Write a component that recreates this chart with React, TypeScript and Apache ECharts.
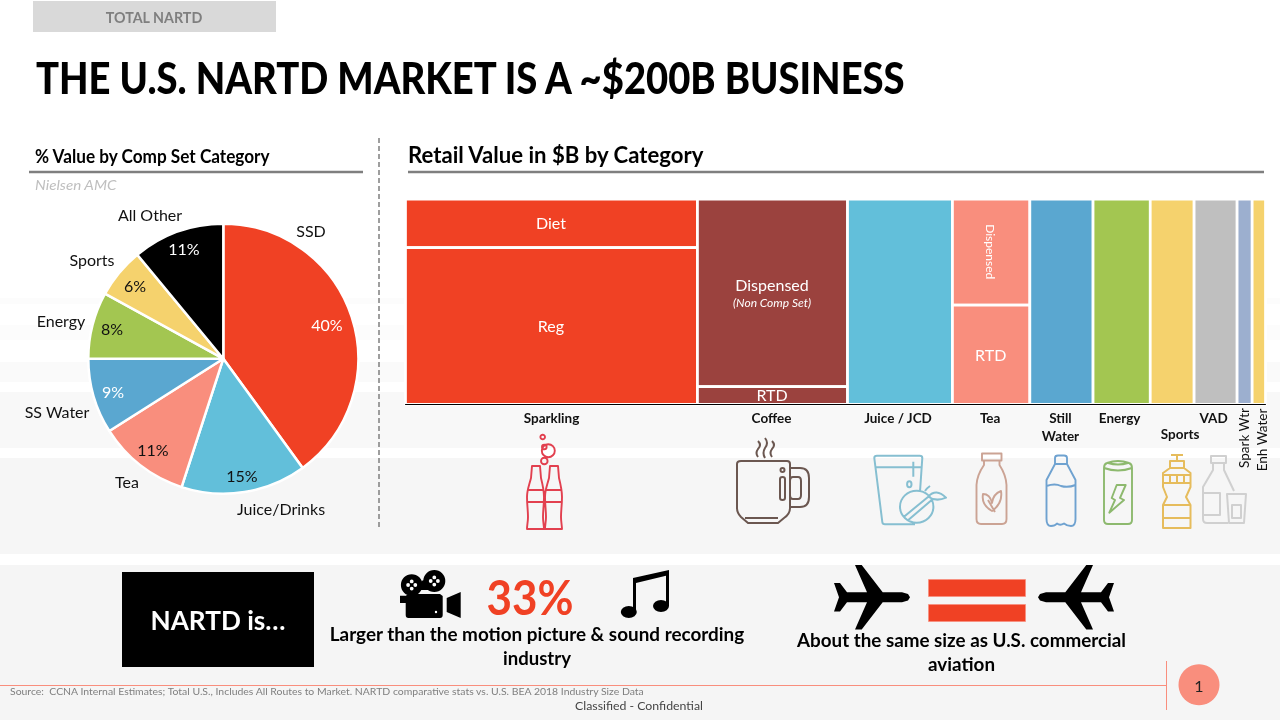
import React, { useEffect, useRef } from "react";
import * as echarts from "echarts";

// ---------- data ----------
const pieNames = ["SSD", "Juice/Drinks", "Tea", "SS Water", "Energy", "Sports", "All Other"];
const pieValues = [40, 15, 11, 9, 8, 6, 11];
const pieColors = ["#F04124", "#62BFDA", "#F98E7D", "#5AA7D0", "#A3C651", "#F5D26D", "#000000"];
const piePctColors = ["#fff", "#111", "#111", "#fff", "#111", "#111", "#fff"];

const categories = ["Sparkling", "Coffee", "Juice / JCD", "Tea", "Still\nWater", "Energy", "Sports", "VAD", "Spark Wtr", "Enh Water"];
const segCategory = [0, 0, 1, 1, 2, 3, 3, 4, 5, 6, 7, 8, 9]; // listed top to bottom per category
const segNames = ["Diet", "Reg", "Dispensed", "RTD", "", "Dispensed", "RTD", "", "", "", "", "", ""];
const segValues = [16.0, 51.9, 31.9, 3.0, 24.4, 9.3, 8.7, 14.7, 13.3, 10.2, 10.0, 3.5, 3.1];
const segColors = ["#F04124", "#F04124", "#9B423E", "#9B423E", "#62BFDA", "#F98E7D", "#F98E7D", "#5AA7D0", "#A3C651", "#F5D26D", "#BFBFBF", "#9CAFCF", "#F5D26D"];

// ---------- layout (pixels, not data) ----------
const FONT = "Lato";
const namePos = [[311, 230], [281, 508], [127, 481], [57, 411], [61, 320], [92, 259], [150, 214]];
const pctPos = [[327, 324], [242, 475], [153, 449], [113, 391], [112, 328], [135, 285], [184, 248]];
const catDx = [0, -1, -2, -1, -1, -2, 8, -2, -1, 3];
const catY = [418, 418, 418, 418, 427, 418, 434, 418, 438, 440];
const catVertical = [false, false, false, false, false, false, false, false, true, true];
const bands = [[298, 304, "#fcfcfc"], [325, 340, "#fcfcfc"], [362, 382, "#fafafa"], [392, 448, "#f8f8f8"], [458, 554, "#f6f6f6"], [565, 720, "#f5f5f5"]];

// ---------- icons ----------
const circle = (x: number, y: number, r: number, r2 = r) =>
  `M${x - r} ${y}a${r} ${r2} 0 1 1 ${2 * r} 0a${r} ${r2} 0 1 1 ${-2 * r} 0Z`;
const cokeBottle = (d: number) =>
  `M${532 + d} 466H${540 + d}L${541 + d} 478C${543 + d} 486 ${544 + d} 490 ${544 + d} 497C${544 + d} 505 ${543 + d} 510 ${543 + d} 517C${543 + d} 522 ${544 + d} 526 ${544 + d} 529H${527 + d}C${527 + d} 525 ${528 + d} 522 ${528 + d} 517C${528 + d} 510 ${527 + d} 505 ${527 + d} 497C${527 + d} 490 ${529 + d} 486 ${531 + d} 478Z` +
  `M${527.5 + d} 490H${544 + d}M${527 + d} 502H${544 + d}`;
const plane = (m: (x: number) => number) => {
  const top: number[][] = [[910, 597.3], [908, 594], [902, 592.3], [882.7, 592.3], [861.7, 565], [855, 565], [867, 592.3], [847, 592.3], [840, 583], [834, 583], [839, 597.3]];
  const bottom = top.slice(1, -1).reverse().map(([x, y]) => [x, 2 * 597.3 - y]);
  return "M" + [...top, ...bottom].map(([x, y]) => `${m(x)} ${y}`).join("L") + "Z";
};
const reels = [[411.7, 585], [434.3, 581]];
const icons: Record<string, string> = {
  icoSparkling: cokeBottle(0) + cokeBottle(18) + circle(548.3, 450.7, 6.5) + circle(544.3, 461, 3.3) + circle(542.7, 437, 2.3) + circle(544.3, 447, 2.3),
  icoCoffee:
    "M741 461H787Q790 461 790 464V508Q790 514 784 518L778 523H748L741 517Q737 513 737 508V464Q737 461 741 461Z" +
    "M790 468H800Q809 468 809 478V497Q809 507 800 507H790M793 477H798Q801 477 801 481V495Q801 499 798 499H793Q790 499 790 495V481Q790 477 793 477Z" +
    "M780 479Q780 477 782.5 477Q785 477 785 479V498Q785 500 782.5 500Q780 500 780 498Z" + circle(782.5, 470, 2) + "M745 518H778" +
    "M758 441q4 4 0 8q-3 4 0 8M765 438q4 5 0 10q-3 5 0 10M772 441q4 4 0 8q-3 4 0 8",
  icoJuice:
    "M874.3 458Q874.3 455.7 877 455.7H919.7Q922.3 455.7 922.3 458L920 491.7M874.3 458L882.3 522Q882.5 524.3 885 524.3H915M875 467.3H921.5M913.3 461.7V476.7" +
    circle(909.3, 484.3, 2.2, 3) + circle(916.7, 506.7, 16.7, 16) +
    "M928.3 496.7Q936 488 946 497.7Q936 502 928.3 496.7ZM904 516.7L928.3 496.7M908.3 520L931.7 500M925 491Q927 488 930 486",
  icoTea:
    "M982 453.5H1001.5V460.5H982ZM984 460.5V465Q977 475 976.5 485V519Q976.5 524 981 524H1002Q1006.5 524 1006.5 519V485Q1006 475 999.5 465V460.5" +
    "M992 511Q981 505 983 494Q990 494 992 503Q993 494 1001 491Q1003 503 992 511ZM988 500L995 512",
  icoWater:
    "M1055 464V458Q1055 455.5 1058 455.5H1064Q1067 455.5 1067 458V464ZM1055 464L1046.5 480V519Q1046.5 526 1051 526Q1055 526 1057 523.5Q1060 526 1064 523.5Q1067 526 1071 526Q1075.5 526 1075.5 519V480L1067 464" +
    "M1046.5 486Q1055 483 1061 486Q1068 488 1075.5 485",
  icoEnergy:
    "M1104 468Q1104 464 1107 463Q1118 459 1129 463Q1132 464 1132 468V520Q1132 524 1128 524H1108Q1104 524 1104 520ZM1104 468Q1118 473 1132 468M1108 463Q1118 466 1128 463" +
    "M1116.7 485H1125.7L1120 498L1124 500L1109.3 512.7L1115 500L1111.7 498Z",
  icoSports:
    "M1171 455H1183M1177 455V461M1170 461H1184V468H1170ZM1170 468H1184L1190.5 473V487L1186 497L1190.5 505V528H1163V505L1167 497L1163 487V473Z" +
    "M1163 475H1190.5M1163 483H1190.5M1170 475V483M1177 475V483M1184 475V483M1163 505H1190.5M1163 518H1190.5",
  icoVad:
    "M1211 456H1226V463H1211ZM1213 463V470L1203 487V519Q1203 523 1207 523H1228M1224 463V470L1234 491M1203 493H1220V515H1203M1227 494H1246L1244 523H1229ZM1232 505H1241V518H1232Z",
  icoCamera:
    circle(reels[0][0], reels[0][1], 10.8) + circle(reels[1][0], reels[1][1], 11) +
    "M408 594H440L442.7 596V615Q442.7 618 440 618H408.5Q405.7 618 405.7 615V596ZM415 590L423 580L431 590ZM400 595.7H405.7V603H400ZM446.7 598L460.7 592V618L446.7 612Z",
  icoCameraHoles:
    reels.map(([x, y]) => circle(x - 3.6, y, 1.9) + circle(x + 3.6, y, 1.9) + circle(x, y - 3.6, 1.9) + circle(x, y + 3.6, 1.9)).join("") + circle(436, 612, 1.2),
  icoMusic: circle(628.8, 612, 8, 6) + circle(661, 606, 8, 6) + "M633 578L669 570V606H666V575.7L636 583V612H633Z",
  icoPlaneL: plane((x) => x),
  icoPlaneR: plane((x) => 1948 - x),
};
Object.entries(icons).forEach(([k, d]) => echarts.graphic.registerShape(k, echarts.graphic.extendPath(d, {})));

// ---------- helpers ----------
const measureCtx = document.createElement("canvas").getContext("2d") as CanvasRenderingContext2D;
type TxtOpt = { size: number; color?: string; weight?: string; italic?: boolean; align?: string; width?: number };
const txt = (text: string, x: number, y: number, o: TxtOpt) => {
  const font = `${o.italic ? "italic " : ""}${o.weight || "normal"} ${o.size}px ${FONT}`;
  measureCtx.font = font;
  const scaleX = o.width ? o.width / measureCtx.measureText(text).width : 1;
  return {
    type: "text", x, y, scaleX, silent: true,
    style: {
      text, x: 0, y: 0, align: o.align || "center", verticalAlign: "middle",
      fontFamily: FONT, fontSize: o.size, fontWeight: o.weight || "normal",
      fontStyle: o.italic ? "italic" : "normal", fill: o.color || "#000",
    },
  };
};
const rect = (x: number, y: number, w: number, h: number, fill: string, extra: any = {}) => ({
  type: "rect", silent: true, shape: { x, y, width: w, height: h }, style: { fill, ...extra },
});
const stroked = (type: string, stroke: string, lineWidth = 1.7) => ({
  type, silent: true, style: { fill: "none", stroke, lineWidth, lineJoin: "round" },
});
const filled = (type: string, fill: string) => ({ type, silent: true, style: { fill } });
const line = (x1: number, y1: number, x2: number, y2: number, stroke: string, lineWidth: number, lineDash?: number[]) => ({
  type: "line", silent: true, shape: { x1, y1, x2, y2 }, style: { stroke, lineWidth, lineDash },
});

// ---------- derived marimekko table ----------
const catTotals = categories.map((_, c) => segValues.reduce((s, v, i) => (segCategory[i] === c ? s + v : s), 0));
const catStarts = catTotals.map((_, c) => catTotals.slice(0, c).reduce((a, b) => a + b, 0));
const grandTotal = catTotals.reduce((a, b) => a + b, 0);
const segData = segValues.map((v, i) => {
  const c = segCategory[i];
  const above = segValues.reduce((s, w, j) => (j < i && segCategory[j] === c ? s + w : s), 0);
  const top = 100 - (above / catTotals[c]) * 100;
  const bottom = top - (v / catTotals[c]) * 100;
  return [catStarts[c], catStarts[c] + catTotals[c], bottom, top];
});
const catData = categories.map((_, c) => [catStarts[c] + catTotals[c] / 2]);

export default function App() {
  const ref = useRef<HTMLDivElement>(null);
  useEffect(() => {
    const chart = echarts.init(ref.current as HTMLDivElement, undefined, { renderer: "svg" });
    const pieBase = {
      type: "pie", center: [223.3, 358.7], radius: [0, 135], startAngle: 90, clockwise: true,
      avoidLabelOverlap: false, silent: true, labelLine: { show: false },
    };
    chart.setOption({
      animation: false,
      textStyle: { fontFamily: FONT },
      grid: { left: 405.5, right: 14.5, top: 199.2, bottom: 315.7, containLabel: false },
      xAxis: {
        type: "value", min: 0, max: grandTotal, z: 10,
        axisLine: { show: true, onZero: false, lineStyle: { color: "#000", width: 1 } },
        axisTick: { show: false }, axisLabel: { show: false }, splitLine: { show: false },
      },
      yAxis: { type: "value", min: 0, max: 100, show: false, splitLine: { show: false } },
      series: [
        {
          ...pieBase,
          itemStyle: { borderColor: "#fff", borderWidth: 2.5 },
          data: pieNames.map((name, i) => ({ name, value: pieValues[i], itemStyle: { color: pieColors[i] } })),
          label: { show: true, position: "outside", formatter: "{b}", fontFamily: FONT, fontSize: 16, color: "#111" },
          labelLayout: (p: any) => ({ x: namePos[p.dataIndex][0], y: namePos[p.dataIndex][1], align: "center", verticalAlign: "middle" }),
        },
        {
          ...pieBase,
          itemStyle: { color: "transparent", borderWidth: 0 },
          data: pieNames.map((name, i) => ({
            name, value: pieValues[i],
            label: { color: piePctColors[i] },
          })),
          label: { show: true, position: "inside", formatter: (p: any) => `${p.value}%`, fontFamily: FONT, fontSize: 16 },
          labelLayout: (p: any) => ({ x: pctPos[p.dataIndex][0], y: pctPos[p.dataIndex][1], align: "center", verticalAlign: "middle" }),
        },
        {
          type: "custom", silent: true, coordinateSystem: "cartesian2d", encode: { x: [0, 1], y: [2, 3] },
          data: segData,
          renderItem: (params: any, api: any) => {
            const i = params.dataIndex;
            const [x0, yB] = api.coord([api.value(0), api.value(2)]);
            const [x1, yT] = api.coord([api.value(1), api.value(3)]);
            const cx = (x0 + x1) / 2, cy = (yB + yT) / 2;
            const name = segNames[i];
            const children: any[] = [{
              type: "rect", shape: { x: x0, y: yT, width: x1 - x0, height: yB - yT },
              style: { fill: segColors[i], stroke: "#fff", lineWidth: 2.7 },
            }];
            const isSubLabelled = i === 2;
            const isVertical = i === 5;
            if (name) children.push({
              type: "text", x: cx - 0.5, y: isSubLabelled ? cy - 8 : cy - 0.5, rotation: isVertical ? -Math.PI / 2 : 0,
              style: { text: name, x: 0, y: 0, align: "center", verticalAlign: "middle", fontFamily: FONT, fontSize: isVertical ? 12 : 16, fill: "#fff" },
            });
            if (isSubLabelled) children.push({
              type: "text", x: cx - 0.5, y: cy + 10,
              style: { text: "(Non Comp Set)", x: 0, y: 0, align: "center", verticalAlign: "middle", fontFamily: FONT, fontSize: 12, fontStyle: "italic", fill: "#fff" },
            });
            return { type: "group", children };
          },
        },
        {
          type: "custom", silent: true, coordinateSystem: "cartesian2d", encode: { x: 0 },
          data: catData,
          renderItem: (params: any, api: any) => {
            const c = params.dataIndex;
            const [x] = api.coord([api.value(0), 0]);
            const vertical = catVertical[c];
            return {
              type: "text", x: x + catDx[c], y: catY[c], rotation: vertical ? Math.PI / 2 : 0,
              style: {
                text: categories[c], x: 0, y: 0, align: "center", verticalAlign: "middle",
                fontFamily: FONT, fontSize: 13.5, fontWeight: vertical ? "normal" : "bold",
                fill: "#111", lineHeight: 18,
              },
            };
          },
        },
      ],
      graphic: [
        ...bands.map(([a, b, c]) => rect(0, a as number, 1280, (b as number) - (a as number), c as string)),
        rect(33, 1, 243, 31, "#D9D9D9"),
        txt("TOTAL NARTD", 154, 17, { size: 15, weight: "bold", color: "#7F7F7F", width: 97 }),
        txt("THE U.S. NARTD MARKET IS A ~$200B BUSINESS", 36, 78, { size: 43, weight: "900", align: "left", width: 873 }),
        txt("% Value by Comp Set Category", 35, 156, { size: 18, weight: "bold", align: "left", width: 236 }),
        line(29, 172, 363, 172, "#7F7F7F", 2.5),
        txt("Nielsen AMC", 35, 185, { size: 14, italic: true, align: "left", color: "#BFBFBF", width: 82 }),
        line(379, 138, 379, 528, "#7F7F7F", 1.5, [5, 3]),
        txt("Retail Value in $B by Category", 408, 154.5, { size: 22, weight: "bold", align: "left", width: 297 }),
        line(408, 172, 1264, 172, "#7F7F7F", 2.5),

        { ...stroked("icoSparkling", "#E2404F", 1.9) },
        { ...stroked("icoCoffee", "#6B5750", 2) },
        { ...stroked("icoJuice", "#86BFD1", 2) },
        { ...stroked("icoTea", "#CBA394", 1.9) },
        { ...stroked("icoWater", "#6FA2D0", 1.9) },
        { ...stroked("icoEnergy", "#8DB96E", 1.9) },
        { ...stroked("icoSports", "#E6BC5C", 2) },
        { ...stroked("icoVad", "#D0D0D0", 2) },

        rect(122, 572, 192, 95, "#000"),
        txt("NARTD is…", 218, 620, { size: 26, weight: "bold", color: "#fff", width: 135 }),
        filled("icoCamera", "#000"),
        filled("icoCameraHoles", "#fff"),
        txt("33%", 530, 597, { size: 47, weight: "bold", color: "#F04124", width: 87 }),
        filled("icoMusic", "#000"),
        txt("Larger than the motion picture & sound recording", 537, 633.5, { size: 19, weight: "bold", width: 415 }),
        txt("industry", 537, 657.5, { size: 19, weight: "bold", width: 68 }),
        filled("icoPlaneL", "#000"),
        filled("icoPlaneR", "#000"),
        rect(928.5, 579.5, 97, 17, "#F04124", { stroke: "#F98E7D", lineWidth: 0.7 }),
        rect(928.5, 604.5, 97, 17, "#F04124", { stroke: "#F98E7D", lineWidth: 0.7 }),
        txt("About the same size as U.S. commercial", 961.5, 639.5, { size: 19, weight: "bold", width: 329 }),
        txt("aviation", 961.5, 663.5, { size: 19, weight: "bold", width: 67 }),

        line(0, 685.5, 1167, 685.5, "#F98E7D", 1),
        line(1166.5, 661, 1166.5, 710, "#F98E7D", 1),
        { type: "circle", silent: true, shape: { cx: 1199, cy: 684.7, r: 20.5 }, style: { fill: "#F98E7D" } },
        txt("1", 1199, 685, { size: 16, color: "#222" }),
        txt("Source:  CCNA Internal Estimates; Total U.S., Includes All Routes to Market. NARTD comparative stats vs. U.S. BEA 2018 Industry Size Data", 10, 691, { size: 10, align: "left", color: "#7F7F7F", width: 636 }),
        txt("Classified - Confidential", 639, 705.5, { size: 12, color: "#444", width: 128 }),
      ],
    });
    return () => chart.dispose();
  }, []);
  return <div ref={ref} style={{ position: "fixed", left: 0, top: 0, width: 1280, height: 720 }} />;
}
